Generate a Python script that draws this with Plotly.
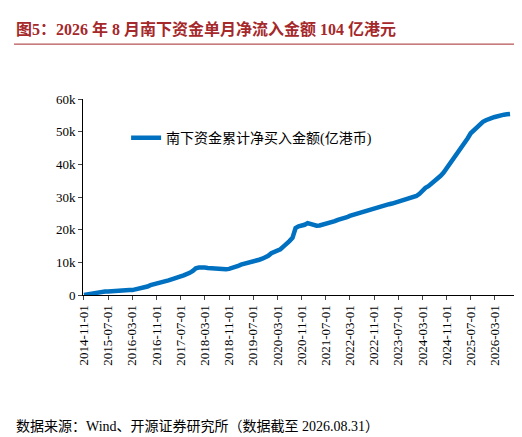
import pandas as pd
import plotly.graph_objects as go

# monthly cumulative southbound net buying (100m HKD), 2014-11 .. 2026-08
values = [
    0, 200,
    400, 500, 700, 900, 1000, 1100, 1100, 1200, 1200, 1200, 1300, 1300,
    1400, 1500, 1500, 1700, 1800, 2000, 2300, 2600, 3000, 3200, 3500, 3700,
    3900, 4200, 4500, 4800, 5000, 5300, 5700, 6000, 6300, 6800, 7400, 8200,
    8400, 8500, 8400, 8300, 8200, 8200, 8100, 8000, 8000, 7900, 8000, 8200,
    8400, 8900, 9300, 9500, 9700, 9900, 10200, 10500, 10800, 11100, 11400, 12000,
    12800, 13200, 13400, 14000, 14800, 15500, 16500, 17500, 20500, 21000, 21200, 21500,
    22000, 21800, 21300, 21200, 21300, 21500, 21800, 22000, 22300, 22600, 23000, 23200,
    23500, 23800, 24200, 24500, 24800, 25200, 25500, 25700, 25900, 26200, 26500, 26800,
    27000, 27300, 27500, 27800, 28000, 28300, 28500, 28700, 29000, 29300, 29500, 29800,
    30300, 31000, 32000, 32800, 33300, 34000, 34800, 35500, 36500, 37500, 38800, 40000,
    41500, 42800, 43800, 45000, 46500, 48000, 49500, 50500, 51200, 52000, 53000, 53500,
    54000, 54200, 54500, 54800, 55000, 55200, 55300, 55400,
]
dates = pd.date_range("2014-11-01", periods=len(values), freq="MS")
tick_dates = pd.date_range("2014-11-01", "2026-03-01", freq="8MS")
tick_labels = [d.strftime("%Y-%m-%d") for d in tick_dates]

font = "Liberation Serif, Noto Sans CJK SC"

fig = go.Figure()
fig.add_trace(go.Scatter(x=dates, y=values, mode="lines",
                         line=dict(color="#0070C0", width=4.5),
                         name="南下资金累计净买入金额(亿港币)"))

fig.update_layout(
    width=522, height=437,
    margin=dict(l=75, r=16, t=91, b=150),
    paper_bgcolor="white", plot_bgcolor="white",
    font=dict(family=font, size=13, color="black"),
    showlegend=True,
    legend=dict(x=0.1, y=0.8, xanchor="left", yanchor="middle",
                bgcolor="rgba(0,0,0,0)", font=dict(size=14)),
    annotations=[
        dict(text="<b>图5：2026 年 8 月南下资金单月净流入金额 104 亿港元</b>",
             xref="paper", yref="paper", x=-0.16, y=1.30, yanchor="bottom",
             xanchor="left", showarrow=False,
             font=dict(size=16, color="#A5282B", family=font)),
        dict(text="数据来源：Wind、开源证券研究所（数据截至 2026.08.31）",
             xref="paper", yref="paper", x=-0.16, y=-0.62, xanchor="left",
             yanchor="top", showarrow=False,
             font=dict(size=14, family=font)),
    ],
    shapes=[dict(type="line", xref="paper", yref="paper", x0=-0.16, x1=1.03,
                 y0=1.28, y1=1.28, line=dict(color="#A5282B", width=1))],
)
fig.update_xaxes(tickvals=tick_dates, ticktext=tick_labels, tickangle=-90,
                 range=[dates[0] - pd.Timedelta(days=10), dates[-1] + pd.Timedelta(days=40)],
                 showline=True, linecolor="black", ticks="outside", ticklen=4,
                 showgrid=False, tickfont=dict(size=13))
fig.update_yaxes(range=[0, 60000], dtick=10000, showline=True, linecolor="black",
                 ticks="outside", ticklen=4, showgrid=False, tickfont=dict(size=13))

fig.write_html("out.html")
